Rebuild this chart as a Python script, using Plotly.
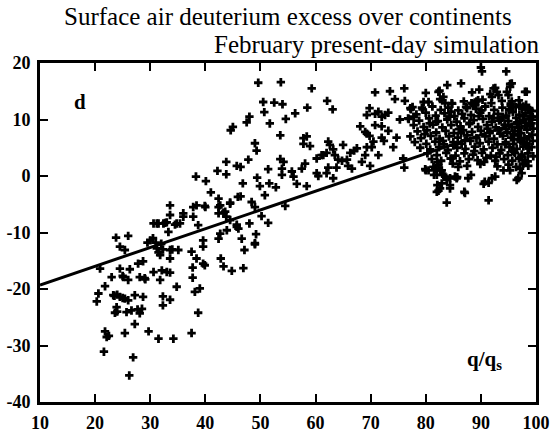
import plotly.graph_objects as go

# ---- data ----
# q/qs (%) and deuterium excess d (per mil); low-humidity region
q_low = [40.1, 41.0, 42.4, 33.6, 38.4, 39.9, 42.7, 44.5, 45.9, 33.6, 36.0, 37.8, 31.5, 32.7, 35.4, 38.7,
         42.4, 43.6, 43.9, 45.7, 33.3, 23.8, 26.0, 30.0, 24.5, 25.4, 31.2, 31.8, 33.6, 35.1, 33.6, 37.5,
         39.6, 39.6, 38.4, 39.9, 20.9, 24.5, 26.3, 27.8, 28.7, 30.6, 32.1, 33.6, 37.7, 42.8, 43.3, 44.8,
         23.0, 25.1, 26.0, 28.1, 29.1, 31.8, 37.7, 21.8, 34.8, 39.0, 38.1, 20.6, 23.3, 24.5, 25.4, 27.2,
         28.7, 32.3, 33.6, 20.3, 32.3, 23.9, 25.7, 26.6, 28.5, 23.6, 28.1, 38.7, 27.2, 21.8, 22.1, 25.4,
         29.7, 31.5, 34.2, 37.5, 21.6, 26.9, 26.2, 47.1, 46.9, 49.0, 25.0, 26.0, 24.0, 22.5, 24.0, 27.7,
         29.0, 23.5, 25.0, 33.0, 34.0, 33.0, 34.5, 29.5, 30.5, 31.0, 31.5, 32.0, 32.3, 30.6, 31.2, 32.4]
d_low = [-0.9, -2.9, -4.0, -5.2, -5.2, -5.3, -5.2, -4.7, -3.7, -6.9, -6.6, -7.2, -8.4, -8.3, -8.4, -8.7,
         -6.6, -6.3, -9.6, -9.0, -9.9, -10.9, -10.6, -11.4, -12.5, -13.1, -12.8, -14.0, -13.1, -13.1, -14.6, -13.4,
         -12.5, -11.4, -14.6, -15.8, -16.4, -16.4, -16.5, -15.5, -15.1, -17.0, -16.7, -17.1, -16.2, -14.6, -16.0, -16.8,
         -17.9, -17.9, -18.4, -17.9, -18.3, -18.4, -18.0, -19.5, -19.6, -19.9, -20.5, -20.8, -21.1, -21.4, -21.7, -21.1,
         -21.4, -21.3, -21.9, -22.2, -22.9, -23.2, -24.1, -23.8, -23.5, -24.2, -24.3, -24.2, -26.2, -27.5, -28.5, -27.8,
         -27.5, -28.8, -28.8, -27.8, -31.1, -32.1, -35.3, -13.1, -16.3, -12.1, -21.6, -22.0, -21.0, -28.3, -24.0, -23.6,
         -18.1, -21.2, -17.7, -17.0, -13.0, -8.2, -8.6, -11.8, -11.0, -11.8, -13.5, -12.0, -13.0, -8.4, -8.4, -8.4]

# intermediate region
q_mid = [49.6, 53.7, 59.3, 50.5, 52.5, 54.0, 62.1, 50.7, 56.3, 54.6, 58.5, 51.7, 48.0, 47.5, 45.0, 44.6,
         53.6, 49.0, 49.3, 58.4, 57.8, 59.0, 43.8, 45.7, 46.4, 47.8, 53.6, 54.2, 53.9, 53.9, 51.4, 42.2,
         43.8, 38.3, 58.1, 57.5, 60.2, 61.1, 62.0, 60.2, 60.5, 55.7, 56.0, 56.6, 58.4, 49.4, 49.9, 51.6,
         52.8, 50.8, 46.8, 46.4, 44.5, 42.4, 43.3, 43.8, 48.4, 49.0, 50.2, 51.4, 54.5, 48.0, 45.7, 46.0,
         44.5, 46.6, 49.2, 49.0, 42.4, 42.7, 39.6, 36.0, 37.8, 40.0, 34.8, 57.8, 69.0, 69.3, 71.4,
         63.1, 70.8, 73.5, 76.1, 80.0, 82.3, 74.4, 76.2, 79.6, 69.8, 70.8, 72.0, 72.6, 73.2, 75.3, 77.3,
         76.8, 77.8, 68.1, 70.8, 72.0, 73.2, 69.3, 69.8, 72.0, 72.4, 74.7, 74.1, 70.5, 62.3, 62.6, 63.2,
         65.0, 61.4, 63.5, 67.5, 67.0, 66.3, 69.3, 70.2, 71.4, 69.0, 64.1, 64.8, 65.7, 62.3, 63.8, 65.9,
         66.6, 69.9, 68.4, 62.0, 63.2, 75.9, 76.1, 79.9, 81.7, 82.0, 82.1, 82.3]
d_mid = [16.5, 16.6, 15.5, 13.1, 13.0, 12.7, 13.3, 11.3, 11.1, 10.1, 12.1, 9.3, 10.5, 9.5, 8.7, 8.1,
         7.2, 5.8, 4.5, 7.0, 5.7, 5.3, 2.5, 1.8, 1.6, 2.9, 3.0, 2.5, 1.3, 0.2, 1.2, 0.9,
         0.3, -0.1, 2.2, 1.3, 3.1, 3.7, 4.1, 0.5, 0.0, 0.8, -0.1, -1.4, -1.8, -0.3, -1.8, -1.3,
         -2.0, -3.4, -1.3, -3.6, -4.9, -5.5, -6.5, -7.2, -4.6, -5.5, -7.1, -8.3, -5.3, -8.4, -8.6, -9.3,
         -7.8, -11.1, -10.3, -11.9, -11.1, -10.2, -15.5, -7.2, -5.5, -5.5, -8.4, 6.7, 7.8, 10.8, 11.4,
         11.8, 14.8, 15.0, 15.5, 14.7, 14.9, 13.6, 13.3, 13.1, 12.0, 11.0, 10.5, 10.8, 11.2, 10.0, 11.8,
         10.2, 10.5, 8.8, 9.0, 8.8, 8.0, 7.5, 7.1, 6.8, 6.2, 6.8, 5.1, 6.1, 6.1, 5.5, 4.7,
         5.5, 3.7, 3.7, 4.9, 4.5, 4.1, 5.1, 5.1, 3.7, 3.7, 2.9, 2.7, 2.9, 1.5, 1.5, 1.8,
         1.3, 1.8, 2.5, 0.5, -0.4, 3.1, 1.5, 1.2, 1.2, 0.2, -1.6, -2.6]

# humid region, scattered points around the dense cluster
q_high = [90.0, 90.2, 94.6, 86.4, 83.9, 82.5, 89.7, 92.3, 95.3, 98.0, 91.7, 92.0, 88.3, 89.2, 94.7, 95.0,
          83.2, 81.4, 82.6, 81.5, 82.6, 83.5, 84.4, 85.3, 84.4, 83.8, 87.1, 87.7, 88.2, 90.5, 91.4, 91.4,
          92.6, 96.8, 95.3, 97.1, 97.7, 82.0, 82.9, 85.7, 80.5, 82.6, 77.2, 79.3, 83.5, 84.7, 87.5, 88.4,
          88.4, 80.0, 82.9, 83.2, 83.8, 84.4, 85.6, 87.0, 85.9, 92.6, 95.3, 93.2, 95.6, 88.9, 89.5, 97.1,
          97.7, 90.7, 92.0, 96.5, 97.4, 94.1, 98.3, 95.6, 92.9]
d_high = [19.2, 18.5, 18.5, 16.4, 16.1, 15.1, 15.3, 15.5, 16.3, 14.9, 14.5, 14.0, 12.9, 13.2, 14.9, 14.3,
          14.0, 1.6, 1.0, 0.2, -2.2, -0.1, -0.4, -0.1, -2.2, -4.7, -3.0, -0.4, 0.2, -1.4, -1.2, -4.3,
          -0.1, -0.4, 1.0, 1.3, 2.2, -2.8, -1.3, -0.2, 1.0, 13.6, 12.0, 12.1, 12.9, 12.9, 12.0, 12.9,
          14.8, 1.0, 1.0, 0.2, -0.7, -1.6, -0.4, -2.8, 1.6, 15.6, 15.8, 14.3, 13.2, 13.0, 13.4, 12.6,
          12.3, -1.0, -0.4, -0.7, 0.5, 1.0, 14.9, 16.4, 14.9]

# dense cluster near saturation
q_dense = [80.5, 83.0, 84.8, 86.9, 88.6, 90.3, 91.9, 93.8, 95.4, 96.9, 98.2,
           77.6, 79.4, 81.2, 82.7, 84.1, 85.9, 87.3, 89.1, 90.8, 92.4, 93.9, 95.1, 96.3, 97.5, 98.6,
           78.3, 80.0, 81.8, 83.4, 85.2, 86.6, 88.2, 89.9, 91.5, 93.1, 94.6, 95.8, 97.0, 98.1, 99.0,
           76.9, 78.8, 80.6, 82.2, 83.9, 85.6, 87.0, 88.7, 90.4, 92.0, 93.6, 95.0, 96.4, 97.6, 98.7,
           77.8, 79.6, 81.3, 83.0, 84.6, 86.3, 87.9, 89.5, 91.1, 92.7, 94.3, 95.6, 96.8, 98.0, 98.9,
           78.5, 80.2, 81.9, 83.6, 85.1, 86.8, 88.4, 90.0, 91.6, 93.2, 94.8, 96.1, 97.3, 98.4,
           77.2, 79.1, 80.9, 82.5, 84.2, 85.8, 87.5, 89.2, 90.8, 92.4, 94.0, 95.5, 96.7, 97.9, 98.8,
           78.0, 80.1, 81.7, 83.3, 85.0, 86.5, 88.1, 89.8, 91.4, 93.0, 94.5, 95.9, 97.2, 98.3,
           79.0, 80.8, 82.4, 84.0, 85.7, 87.2, 88.9, 90.5, 92.1, 93.7, 95.2, 96.5, 97.7, 98.7,
           80.3, 82.0, 83.7, 85.4, 87.0, 88.6, 90.2, 91.8, 93.4, 94.9, 96.2, 97.4, 98.5,
           81.1, 82.8, 84.5, 86.2, 87.8, 89.4, 91.0, 92.6, 94.2, 95.7, 96.9, 98.0,
           82.3, 84.9, 87.5, 89.9, 93.0, 95.0, 96.4, 97.6, 98.6,
           99.3, 99.4, 99.2, 99.5, 99.3, 99.4, 99.2, 99.5,
           94.0, 95.3, 96.6, 97.8, 98.9, 94.6, 95.9, 97.1, 98.2, 93.3, 96.0, 97.3, 98.5, 95.4, 96.8,
           81.9, 84.3, 86.0, 88.0, 90.1, 92.3, 79.8, 83.1, 86.4, 89.6, 91.2, 94.4, 97.0, 85.0, 88.8,
           92.8, 96.0, 80.7, 87.1, 90.6, 93.5, 98.1, 84.6, 95.7, 82.1, 89.0]
d_dense = [13.1, 13.4, 12.8, 13.2, 12.7, 13.5, 12.9, 13.3, 12.8, 13.4, 12.6,
           12.2, 11.8, 12.3, 11.7, 12.1, 11.6, 12.2, 11.9, 12.3, 11.7, 12.1, 11.6, 12.2, 11.8, 12.0,
           10.9, 11.2, 10.7, 11.1, 10.6, 11.0, 10.8, 11.2, 10.6, 11.0, 10.7, 11.3, 10.8, 11.1, 10.6,
           10.1, 9.8, 10.2, 9.7, 10.0, 9.6, 10.2, 9.9, 10.1, 9.6, 10.0, 9.7, 10.3, 9.9, 10.1,
           9.0, 8.7, 9.1, 8.6, 9.0, 8.8, 9.2, 8.7, 9.0, 8.6, 9.1, 8.7, 9.2, 8.8, 9.0,
           7.9, 8.1, 7.7, 8.0, 7.6, 8.1, 7.8, 8.0, 7.6, 8.1, 7.7, 8.0, 7.6, 8.2,
           7.0, 6.7, 7.1, 6.6, 7.0, 6.8, 7.2, 6.7, 7.0, 6.6, 7.1, 6.8, 7.2, 6.7, 7.0,
           6.0, 5.7, 6.1, 5.6, 6.0, 5.7, 6.2, 5.8, 6.1, 5.6, 6.0, 5.7, 6.1, 5.8,
           5.0, 4.7, 5.1, 4.6, 5.0, 4.8, 5.2, 4.7, 5.0, 4.6, 5.1, 4.8, 5.2, 4.9,
           4.0, 3.7, 4.1, 3.6, 4.0, 3.8, 4.1, 3.6, 4.0, 3.7, 4.1, 3.8, 4.0,
           3.0, 2.7, 3.1, 2.6, 3.0, 2.8, 3.2, 2.7, 3.0, 2.7, 3.1, 2.8,
           1.9, 2.2, 1.8, 2.1, 1.7, 2.0, 1.6, 2.1, 1.8,
           11.5, 10.4, 9.3, 8.4, 7.3, 6.2, 5.1, 3.5,
           10.5, 11.8, 9.5, 10.6, 11.7, 8.3, 7.4, 6.4, 5.4, 9.8, 4.3, 3.3, 2.6, 12.4, 8.6,
           9.6, 10.5, 8.3, 9.4, 11.6, 10.3, 7.4, 6.2, 7.6, 10.6, 8.4, 5.6, 8.5, 5.4, 4.4,
           3.4, 6.5, 9.3, 6.3, 2.5, 7.5, 9.4, 11.4, 4.4, 2.4, 12.5]

# regression line end points
line_q = [10, 100]
line_d = [-19.3, 10.6]

x_ticks = [10, 20, 30, 40, 50, 60, 70, 80, 90, 100]
y_ticks = [-40, -30, -20, -10, 0, 10, 20]

title_1 = "Surface air deuterium excess over continents"
title_2 = "February present-day simulation"

# ---- figure ----
q_all = q_low + q_mid + q_high + q_dense
d_all = d_low + d_mid + d_high + d_dense

fig = go.Figure()
fig.add_trace(go.Scatter(x=q_all, y=d_all, mode="markers",
                         marker=dict(symbol="cross", size=7, color="black", line=dict(width=0)),
                         showlegend=False, cliponaxis=True))
fig.add_trace(go.Scatter(x=line_q, y=line_d, mode="lines",
                         line=dict(color="black", width=3), showlegend=False))

axis_common = dict(showline=True, linewidth=3, linecolor="black", mirror="allticks",
                   ticks="inside", ticklen=8, tickwidth=2, tickcolor="black",
                   showgrid=False, zeroline=False, automargin=False,
                   tickfont=dict(family="Liberation Serif", size=18, color="black", weight="bold"))

fig.update_xaxes(range=[10, 100], tickvals=x_ticks, ticktext=[str(v) for v in x_ticks],
                 ticklabelstandoff=2, **axis_common)
fig.update_yaxes(range=[-40, 20], tickvals=y_ticks, ticktext=[str(v) for v in y_ticks],
                 ticklabelstandoff=3, **axis_common)

fig.add_annotation(text=title_1, xref="paper", yref="paper", x=0.5, y=1.136,
                   xanchor="center", yanchor="middle", showarrow=False,
                   font=dict(family="Liberation Serif", size=25, color="black"))
fig.add_annotation(text=title_2, xref="paper", yref="paper", x=1.01, y=1.056,
                   xanchor="right", yanchor="middle", showarrow=False,
                   font=dict(family="Liberation Serif", size=25, color="black"))
fig.add_annotation(text="d", x=17.3, y=13.1, xref="x", yref="y", showarrow=False,
                   font=dict(family="Liberation Serif", size=21, color="black", weight="bold"))
fig.add_annotation(text="q/q<sub>s</sub>", x=90.6, y=-32.6, xref="x", yref="y", showarrow=False,
                   font=dict(family="Liberation Serif", size=21, color="black", weight="bold"))

fig.update_layout(width=552, height=433, margin=dict(l=40, r=16, t=63, b=31, autoexpand=False),
                  plot_bgcolor="white", paper_bgcolor="white", hovermode=False)

fig.write_html("out.html", config={"displayModeBar": False, "staticPlot": True},
               post_script="document.body.style.margin='0';document.body.style.overflow='hidden';")
